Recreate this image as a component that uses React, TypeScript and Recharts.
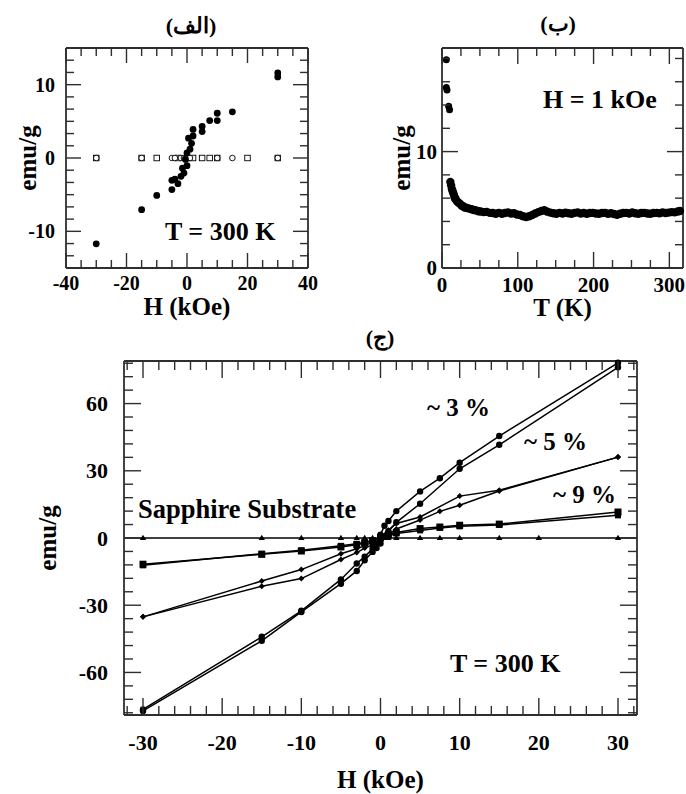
import { ComposedChart, Scatter, XAxis, YAxis, ReferenceLine } from "recharts";

const FONT = '"Liberation Serif", "Times New Roman", serif';
const INK = "#000";
const FRAME = "#2e2e2e";

// ---------- (a) magnetisation vs field, film and substrate ----------
const filmA: [number, number][] = [
  [-30, -11.7], [-15, -7.05], [-10, -5.1], [-5, -4.3], [-5, -3.05], [-4, -2.9],
  [-3, -3.5], [-2, -2.5], [-1.5, -1.4], [-1, -2.05], [0, -1.05], [-0.5, -0.2],
  [0, 0.7], [1, 1.2], [1.5, 2.0], [0.5, 2.7], [2, 3.0], [2, 3.9], [5, 3.6],
  [5, 4.3], [7.5, 5.1], [10, 5.1], [10, 6.1], [15, 6.3], [30, 11.05], [30, 11.6],
];
const substrateSquaresA = [-30, -15, -10, -3, 0, 2, 5, 7.5, 10, 20, 30];
const substrateCirclesA = [-30, -15, -5, -4, -2, -1, -0.5, 0, 1, 10, 15, 30];
const hLabelsA = [-40, -20, 0, 20, 40];
const mLabelsA = [-10, 0, 10];

// ---------- (b) magnetisation vs temperature at 1 kOe ----------
const coldB: [number, number][] = [
  [5.7, 17.9], [5.7, 15.5], [6.6, 15.3], [8.8, 13.9], [10, 13.6],
];
const sweepB: [number, number][] = [
  [11, 7.4], [12, 7.1], [13, 6.8], [14, 6.6], [15, 6.4], [16, 6.2], [17, 6.0],
  [18, 5.9], [20, 5.7], [22, 5.6], [24, 5.5], [26, 5.35], [28, 5.3], [30, 5.2],
  [33, 5.15], [36, 5.1], [39, 5.05], [42, 4.98], [45, 4.95], [48, 4.88],
  [51, 4.85], [55, 4.8], [59, 4.82], [63, 4.74], [67, 4.72], [71, 4.66],
  [75, 4.74], [79, 4.66], [83, 4.72], [87, 4.78], [91, 4.68], [95, 4.7],
  [99, 4.6], [103, 4.55], [107, 4.45], [111, 4.38], [115, 4.45], [119, 4.55],
  [123, 4.68], [127, 4.8], [131, 4.9], [135, 4.96], [139, 4.84], [143, 4.76],
  [147, 4.7], [151, 4.66], [155, 4.74], [159, 4.68], [163, 4.76], [167, 4.7],
  [171, 4.66], [175, 4.74], [179, 4.78], [183, 4.68], [187, 4.72], [191, 4.66],
  [195, 4.72], [199, 4.74], [203, 4.68], [207, 4.66], [211, 4.72], [215, 4.74],
  [219, 4.66], [223, 4.7], [227, 4.64], [231, 4.58], [235, 4.66], [239, 4.72],
  [243, 4.74], [247, 4.68], [251, 4.78], [255, 4.7], [259, 4.66], [263, 4.72],
  [267, 4.74], [271, 4.68], [275, 4.66], [279, 4.72], [283, 4.74], [287, 4.7],
  [291, 4.78], [295, 4.72], [299, 4.76], [303, 4.8], [307, 4.78], [311, 4.86],
  [314, 4.9],
];
const tLabelsB = [0, 100, 200, 300];
const mLabelsB = [0, 10];

// ---------- (c) hysteresis loops for three dopings, 300 K ----------
const pct3Up: [number, number][] = [
  [-30, -76.5], [-15, -44.1], [-10, -32.5], [-5, -18.5], [-3, -11.4], [-2, -8.3],
  [-1, -4.8], [-0.5, -2.5], [0, 1.5], [0.5, 5.5], [1, 7.6], [2, 12.0], [5, 20.8],
  [7.5, 26.7], [10, 33.6], [15, 45.5], [30, 78.2],
];
const pct3Down: [number, number][] = [
  [-30, -77.2], [-15, -45.9], [-10, -33], [-5, -20.4], [-3, -14.7], [-2, -9.9],
  [-1, -6.2], [-0.5, -4.5], [0, -2.5], [0.5, 0.5], [1, 3], [2, 7], [5, 15.3],
  [10, 30.9], [15, 41.6], [30, 76.2],
];
const pct5Up: [number, number][] = [
  [-30, -35.2], [-15, -19.2], [-10, -14.1], [-5, -7.0], [-3, -4.8], [-2, -3.5],
  [-1, -1.8], [0, 0.5], [1, 3.5], [2, 6.5], [5, 9.4], [10, 18.7], [15, 21.3],
  [30, 36.1],
];
const pct5Down: [number, number][] = [
  [-30, -35.2], [-15, -21.5], [-10, -18.1], [-5, -9.6], [-3, -6.5], [-2, -4.5],
  [-1, -3], [0, -1.5], [1, 1.5], [2, 4], [5, 8], [7.5, 11.9], [10, 14.6],
  [15, 21], [30, 36.1],
];
const pct9Up: [number, number][] = [
  [-30, -11.7], [-15, -7.3], [-10, -5.8], [-5, -4], [-3, -3], [-2, -2.2],
  [-1, -1.2], [0, 0.3], [1, 1.5], [2, 2.5], [5, 4.2], [7.5, 4.9], [10, 5.7],
  [15, 6.2], [30, 11.6],
];
const pct9Down: [number, number][] = [
  [-30, -12.2], [-15, -7.0], [-10, -5.5], [-5, -3.5], [-3, -2.6], [-2, -2],
  [-1, -1], [0, -0.5], [1, 1], [2, 2], [5, 3.4], [7.5, 4.5], [10, 5.2],
  [15, 5.8], [30, 10.1],
];
const sapphireFields = [-30, -15, -10, -5, -3, -2, -1, 0, 1, 2, 5, 7.5, 10, 15, 20, 30];
const hLabelsC = [-30, -20, -10, 0, 10, 20, 30];
const mLabelsC = [-60, -30, 0, 30, 60];

// ---------- helpers ----------
const pts = (rows: [number, number][]) => rows.map(([x, y]) => ({ x, y }));
const onZero = (xs: number[]) => xs.map((x) => ({ x, y: 0 }));
const steps = (from: number, to: number, n: number) =>
  Array.from({ length: n + 1 }, (_, i) => from + ((to - from) * i) / n);
const near = (a: number, b: number) => Math.abs(a - b) < 1e-6;

type Side = "bottom" | "top" | "left" | "right";
interface TickStyle {
  side: Side;
  labels: number[];
  major: number;
  minor: number;
  fontSize?: number;
  gap?: number;
}

// inward tick marks on every side, labels only on bottom/left majors
function frameTick(s: TickStyle) {
  return (props: any) => {
    const { x, y, payload } = props;
    const v: number = payload.value;
    const isMajor = s.labels.some((l) => near(l, v));
    const len = isMajor ? s.major : s.minor;
    const d = { bottom: [0, -len], top: [0, len], left: [len, 0], right: [-len, 0] }[s.side];
    let label = null;
    if (isMajor && s.fontSize) {
      const common = { fontFamily: FONT, fontWeight: 700, fontSize: s.fontSize, fill: INK };
      if (s.side === "bottom")
        label = (
          <text x={x} y={y + (s.gap ?? 20)} textAnchor="middle" {...common}>
            {String(Math.round(v))}
          </text>
        );
      if (s.side === "left")
        label = (
          <text x={x - (s.gap ?? 8)} y={y} dy="0.35em" textAnchor="end" {...common}>
            {String(Math.round(v))}
          </text>
        );
    }
    return (
      <g>
        <line x1={x} y1={y} x2={x + d[0]} y2={y + d[1]} stroke={FRAME} strokeWidth={1.4} />
        {label}
      </g>
    );
  };
}

const axisLine = { stroke: FRAME, strokeWidth: 1.8 };
const titleFont = { fontFamily: FONT, fontWeight: 700, fill: INK };

const dot = (r: number) => (p: any) => <circle cx={p.cx} cy={p.cy} r={r} fill={INK} />;
const square = (s: number, open = false) => (p: any) => (
  <rect
    x={p.cx - s / 2}
    y={p.cy - s / 2}
    width={s}
    height={s}
    fill={open ? "#fff" : INK}
    stroke={INK}
    strokeWidth={open ? 0.9 : 0}
  />
);
const ring = (r: number) => (p: any) => (
  <circle cx={p.cx} cy={p.cy} r={r} fill="#fff" stroke={INK} strokeWidth={0.9} />
);
const diamond = (h: number) => (p: any) => (
  <path d={`M${p.cx},${p.cy - h}L${p.cx + h},${p.cy}L${p.cx},${p.cy + h}L${p.cx - h},${p.cy}Z`} fill={INK} />
);
const triangle = (h: number) => (p: any) => (
  <path d={`M${p.cx},${p.cy - h}L${p.cx + h},${p.cy + h * 0.6}L${p.cx - h},${p.cy + h * 0.6}Z`} fill={INK} />
);
const nothing = () => <g />;

interface FrameAxesProps {
  xDomain: [number, number];
  yDomain: [number, number];
  xTicks: number[];
  yTicks: number[];
  xLabels: number[];
  yLabels: number[];
  xTitle: string;
  yTitle: string;
  yAxisWidth: number;
  xAxisHeight: number;
  xTitleOffset: number;
  yTitleOffset: number;
  tickFont: number;
  xGap: number;
  yGap: number;
  major: number;
  minor: number;
}

// bottom/left carry labels; top/right are 1px mirror axes that close the box
function frameAxes(a: FrameAxesProps) {
  return [
    <XAxis
      key="xb"
      type="number"
      dataKey="x"
      domain={a.xDomain}
      ticks={a.xTicks}
      interval={0}
      height={a.xAxisHeight}
      tickSize={0}
      tickMargin={0}
      tickLine={false}
      axisLine={axisLine}
      tick={frameTick({ side: "bottom", labels: a.xLabels, major: a.major, minor: a.minor, fontSize: a.tickFont, gap: a.xGap })}
      label={{ value: a.xTitle, position: "insideBottom", offset: a.xTitleOffset, fontSize: 25, ...titleFont }}
    />,
    <XAxis
      key="xt"
      xAxisId="top"
      orientation="top"
      type="number"
      dataKey="x"
      domain={a.xDomain}
      ticks={a.xTicks}
      interval={0}
      height={1}
      tickSize={0}
      tickMargin={0}
      tickLine={false}
      axisLine={axisLine}
      tick={frameTick({ side: "top", labels: a.xLabels, major: a.major, minor: a.minor })}
    />,
    <YAxis
      key="yl"
      type="number"
      dataKey="y"
      domain={a.yDomain}
      ticks={a.yTicks}
      interval={0}
      width={a.yAxisWidth}
      tickSize={0}
      tickMargin={0}
      tickLine={false}
      axisLine={axisLine}
      tick={frameTick({ side: "left", labels: a.yLabels, major: a.major, minor: a.minor, fontSize: a.tickFont, gap: a.yGap })}
      label={{
        value: a.yTitle,
        angle: -90,
        position: "insideLeft",
        offset: a.yTitleOffset,
        fontSize: 25,
        style: { textAnchor: "middle" },
        ...titleFont,
      }}
    />,
    <YAxis
      key="yr"
      yAxisId="right"
      orientation="right"
      type="number"
      dataKey="y"
      domain={a.yDomain}
      ticks={a.yTicks}
      interval={0}
      width={1}
      tickSize={0}
      tickMargin={0}
      tickLine={false}
      axisLine={axisLine}
      tick={frameTick({ side: "right", labels: a.yLabels, major: a.major, minor: a.minor })}
    />,
    // invisible series so the mirror axes are registered and drawn
    <Scatter
      key="mirror"
      xAxisId="top"
      yAxisId="right"
      data={[{ x: a.xDomain[0], y: a.yDomain[0] }]}
      shape={nothing}
      isAnimationActive={false}
    />,
  ];
}

function PanelA() {
  return (
    <div style={{ position: "absolute", left: 0, top: 0 }}>
      <ComposedChart width={330} height={330} margin={{ top: 47, right: 21, bottom: 0, left: 0 }}>
        {frameAxes({
          xDomain: [-40, 40],
          yDomain: [-15, 15],
          xTicks: steps(-40, 40, 16),
          yTicks: steps(-40 / 3, 40 / 3, 16),
          xLabels: hLabelsA,
          yLabels: mLabelsA,
          xTitle: "H (kOe)",
          yTitle: "emu/g",
          yAxisWidth: 66,
          xAxisHeight: 62,
          xTitleOffset: 15,
          yTitleOffset: 27,
          tickFont: 20,
          xGap: 22,
          yGap: 11,
          major: 15,
          minor: 8,
        })}
        <Scatter data={onZero(substrateSquaresA)} shape={square(5.5, true)} isAnimationActive={false} />
        <Scatter data={onZero(substrateCirclesA)} shape={ring(2.8)} isAnimationActive={false} />
        <Scatter data={pts(filmA)} shape={dot(3.4)} isAnimationActive={false} />
      </ComposedChart>
    </div>
  );
}

function PanelB() {
  return (
    <div style={{ position: "absolute", left: 356, top: 0 }}>
      <ComposedChart width={330} height={330} margin={{ top: 47, right: 2, bottom: 0, left: 0 }}>
        {frameAxes({
          xDomain: [0, 318],
          yDomain: [0, 18.9],
          xTicks: steps(0, 300, 12),
          yTicks: steps(0, 18, 9),
          xLabels: tLabelsB,
          yLabels: mLabelsB,
          xTitle: "T (K)",
          yTitle: "emu/g",
          yAxisWidth: 86,
          xAxisHeight: 62,
          xTitleOffset: 14,
          yTitleOffset: 45,
          tickFont: 21,
          xGap: 24,
          yGap: 5,
          major: 16,
          minor: 8,
        })}
        <Scatter data={pts(coldB)} shape={dot(3.5)} isAnimationActive={false} />
        <Scatter data={pts(sweepB)} shape={dot(4.2)} isAnimationActive={false} />
      </ComposedChart>
    </div>
  );
}

const loopLine = { stroke: INK, strokeWidth: 1.5 };

function PanelC() {
  return (
    <div style={{ position: "absolute", left: 0, top: 330 }}>
      <ComposedChart width={686} height={464} margin={{ top: 30, right: 48, bottom: 0, left: 0 }}>
        {frameAxes({
          xDomain: [-32.4, 32.4],
          yDomain: [-79, 79],
          xTicks: steps(-32, 32, 32),
          yTicks: steps(-78, 78, 26),
          xLabels: hLabelsC,
          yLabels: mLabelsC,
          xTitle: "H (kOe)",
          yTitle: "emu/g",
          yAxisWidth: 124,
          xAxisHeight: 79,
          xTitleOffset: 6,
          yTitleOffset: 47,
          tickFont: 22,
          xGap: 35,
          yGap: 16,
          major: 17,
          minor: 9,
        })}
        <ReferenceLine y={0} stroke={INK} strokeWidth={1.5} />
        <Scatter data={onZero(sapphireFields)} shape={triangle(3.2)} isAnimationActive={false} />
        <Scatter data={pts(pct9Up)} line={loopLine} shape={square(7)} isAnimationActive={false} />
        <Scatter data={pts(pct9Down)} line={loopLine} shape={square(6)} isAnimationActive={false} />
        <Scatter data={pts(pct5Up)} line={loopLine} shape={diamond(3)} isAnimationActive={false} />
        <Scatter data={pts(pct5Down)} line={loopLine} shape={diamond(3)} isAnimationActive={false} />
        <Scatter data={pts(pct3Up)} line={loopLine} shape={dot(3.2)} isAnimationActive={false} />
        <Scatter data={pts(pct3Down)} line={loopLine} shape={dot(3.2)} isAnimationActive={false} />
      </ComposedChart>
    </div>
  );
}

// panel captions and in-plot notes
function Notes() {
  const t = (x: number, y: number, size: number, s: string, anchor: "start" | "middle" = "start") => (
    <text x={x} y={y} fontSize={size} textAnchor={anchor} {...titleFont}>
      {s}
    </text>
  );
  return (
    <svg width={686} height={794} style={{ position: "absolute", left: 0, top: 0, pointerEvents: "none" }}>
      {t(191, 33, 22, "(الف)", "middle")}
      {t(558, 31, 22, "(ب)", "middle")}
      {t(380, 345, 22, "(ج)", "middle")}
      {t(165, 240, 26, "T = 300 K")}
      {t(543, 108, 26, "H = 1 kOe")}
      {t(138, 518, 26.5, "Sapphire Substrate")}
      {t(427, 416, 25, "~ 3 %")}
      {t(524, 450, 25, "~ 5 %")}
      {t(553, 503, 25, "~ 9 %")}
      {t(450, 672, 26, "T = 300 K")}
    </svg>
  );
}

export default function App() {
  return (
    <div style={{ position: "absolute", left: 0, top: 0, width: 686, height: 794, background: "#fff" }}>
      <PanelA />
      <PanelB />
      <PanelC />
      <Notes />
    </div>
  );
}
